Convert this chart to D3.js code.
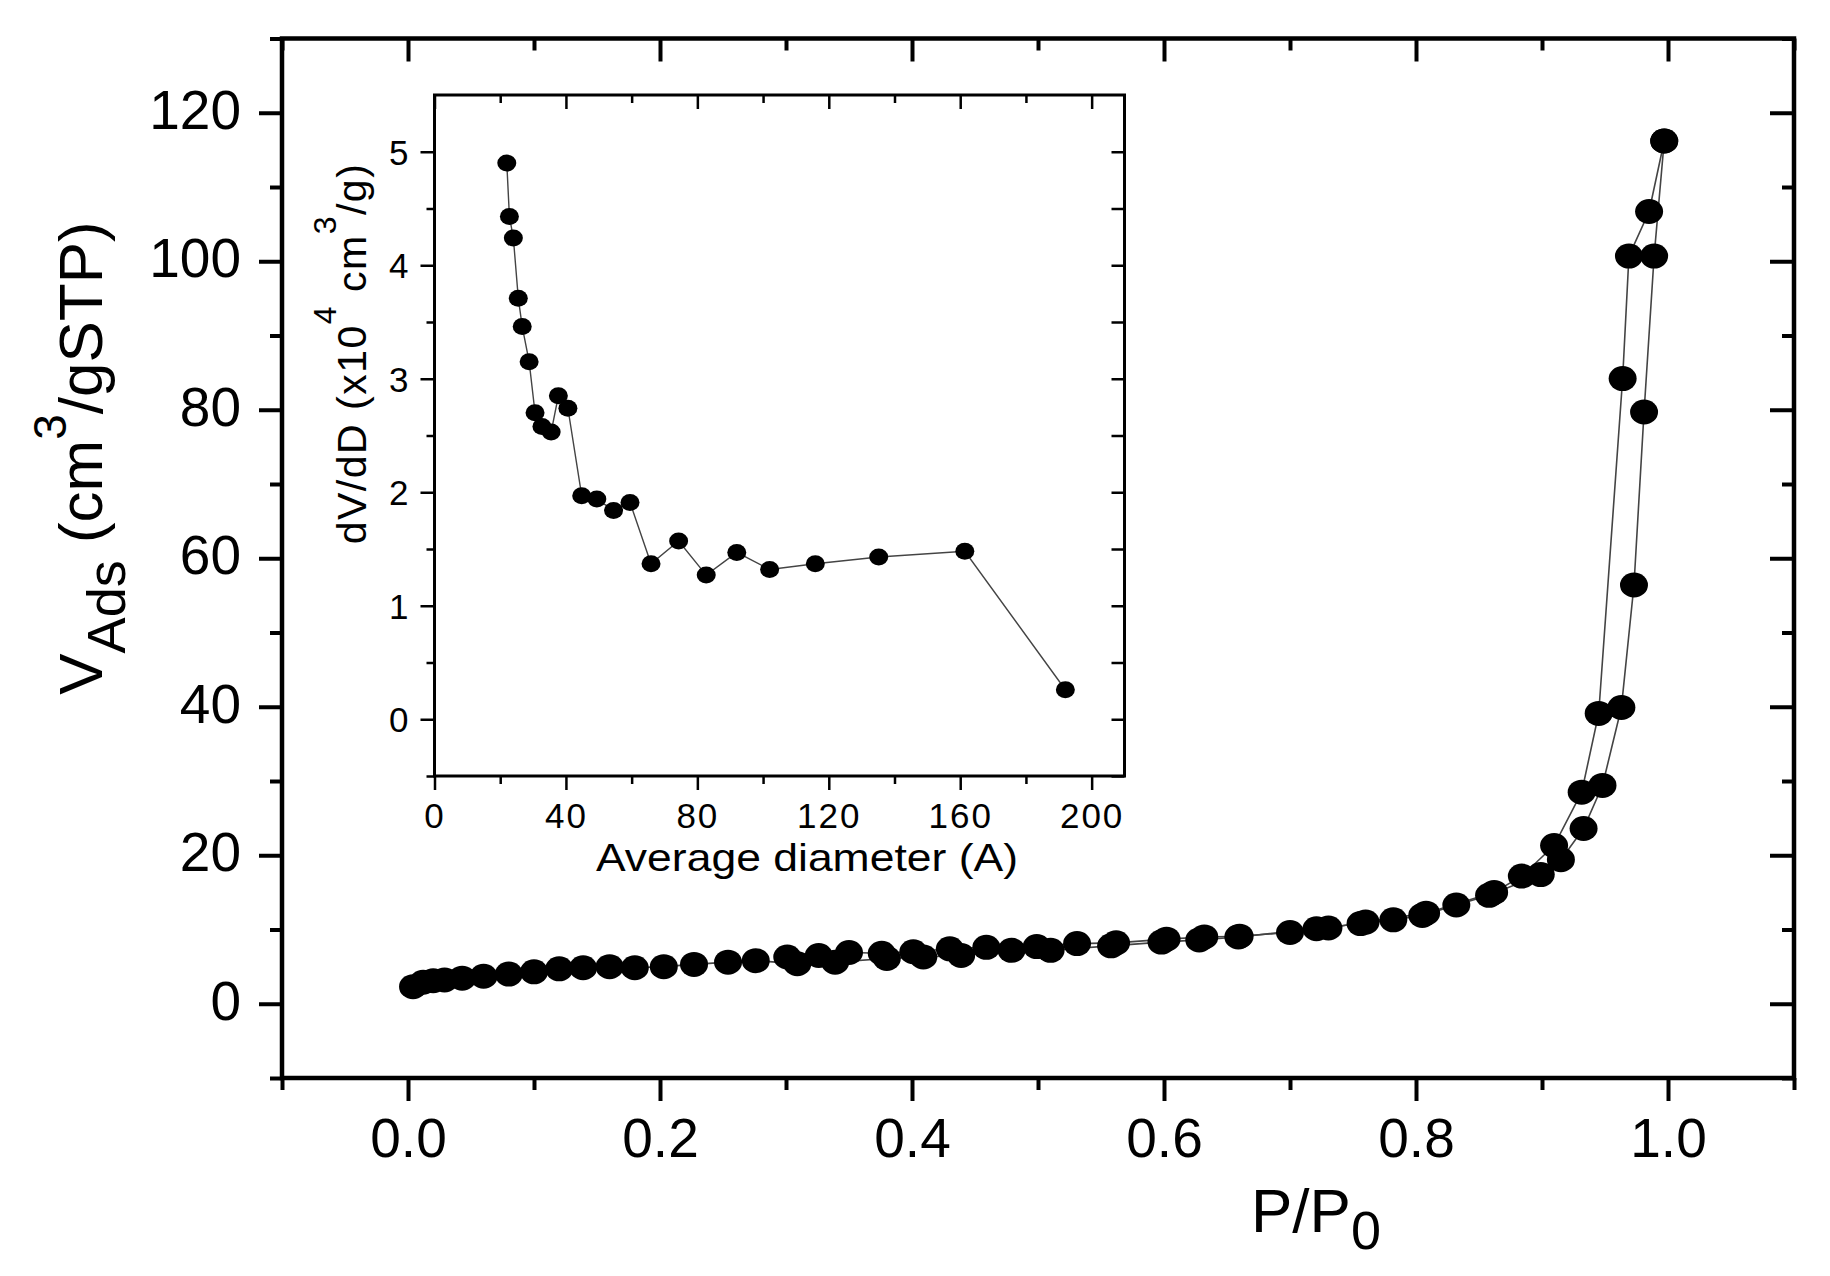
<!DOCTYPE html>
<html>
<head>
<meta charset="utf-8">
<script src="https://cdn.jsdelivr.net/npm/d3@7"></script>
<style>
  body { margin: 0; background: #fff; }
  text { font-family: "Liberation Sans", Arial, sans-serif; fill: #000; white-space: pre; }
</style>
</head>
<body>
<div id="chart"></div>
<script>
// isotherm - adsorption branch (P/P0, cm3/g STP)
var adsP = [0.004, 0.012, 0.020, 0.029, 0.043, 0.060, 0.080, 0.100, 0.120, 0.139, 0.160, 0.180, 0.203,
            0.227, 0.254, 0.276, 0.309, 0.339, 0.380, 0.409, 0.439, 0.479, 0.510, 0.558, 0.598, 0.628,
            0.659, 0.721, 0.756, 0.782, 0.805, 0.832, 0.858, 0.899, 0.915, 0.933, 0.948, 0.963, 0.973,
            0.981, 0.989, 0.997];
var adsV = [2.3, 2.9, 3.1, 3.2, 3.45, 3.7, 4.0, 4.3, 4.7, 4.85, 5.0, 4.85, 5.0,
            5.3, 5.6, 5.8, 5.4, 5.6, 6.1, 6.3, 6.5, 7.2, 7.2, 7.8, 8.3, 8.6,
            9.0, 10.1, 10.8, 11.3, 11.9, 13.3, 14.6, 17.4, 19.4, 23.6, 29.4, 39.9, 56.4,
            79.7, 100.7, 116.2];

// isotherm - desorption branch
var desP = [0.997, 0.985, 0.969, 0.964, 0.945, 0.9315, 0.9096, 0.884, 0.862, 0.808, 0.760, 0.7305,
            0.700, 0.660, 0.632, 0.602, 0.562, 0.531, 0.499, 0.459, 0.430, 0.401, 0.376, 0.350,
            0.326, 0.301];
var desV = [116.2, 106.7, 100.7, 84.2, 39.1, 28.5, 21.3, 17.2, 15.0, 12.2, 11.0, 10.2,
            9.6, 9.1, 9.0, 8.7, 8.2, 8.1, 7.7, 7.6, 7.4, 7.0, 6.8, 6.9,
            6.5, 6.3];

// inset - pore size distribution
var poreD = [22.0, 22.8, 24.0, 25.5, 26.7, 28.8, 30.6, 32.7, 35.5, 37.7, 40.6, 44.8, 49.4, 54.5,
             59.5, 65.9, 74.3, 82.7, 92.0, 102.0, 115.9, 135.2, 161.4, 192.0];
var poreV = [4.90, 4.43, 4.24, 3.71, 3.46, 3.15, 2.70, 2.58, 2.53, 2.85, 2.74, 1.97, 1.94, 1.84,
             1.91, 1.37, 1.57, 1.27, 1.47, 1.32, 1.37, 1.43, 1.48, 0.26];

// ticks
var mainXTicks = [0, 0.2, 0.4, 0.6, 0.8, 1.0];
var mainXMinor = [-0.1, 0.1, 0.3, 0.5, 0.7, 0.9, 1.1];
var mainYTicks = [0, 20, 40, 60, 80, 100, 120];
var mainYMinor = [-10, 10, 30, 50, 70, 90, 110, 130];
var insetXTicks = [0, 40, 80, 120, 160, 200];
var insetXMinor = [20, 60, 100, 140, 180];
var insetYTicks = [0, 1, 2, 3, 4, 5];
var insetYMinor = [-0.5, 0.5, 1.5, 2.5, 3.5, 4.5];

var W = 1830, H = 1276;
var frame = {left: 282, right: 1794, top: 38.5, bottom: 1078};
var box = {left: 434.5, right: 1124.5, top: 95, bottom: 776};

var svg = d3.select("#chart")
  .append("svg")
    .attr("width", W)
    .attr("height", H);

svg.append("rect").attr("width", W).attr("height", H).attr("fill", "#fff");

// main scales
var x = d3.scaleLinear().domain([-0.1, 1.1]).range([frame.left, frame.right]);
var y = d3.scaleLinear().domain([-10, 130]).range([frame.bottom, frame.top]);

// inset scales
var xi = d3.scaleLinear().domain([0, 210]).range([box.left, box.right]);
var yi = d3.scaleLinear().domain([-0.5, 5.5]).range([box.bottom, box.top]);

// draws a boxed set of axes: labelled ticks bottom/left, inward ticks top/right
function drawAxes(o) {
  var g = svg.append("g");
  function put(axis, tx, ty, sw) {
    var a = g.append("g")
      .attr("transform", "translate(" + tx + "," + ty + ")")
      .call(axis);
    a.select(".domain").remove();
    a.selectAll("line").attr("stroke", "#000").attr("stroke-width", sw);
    return a;
  }
  var fmt = o.fmt;
  var bx = put(d3.axisBottom(o.x).tickValues(o.xt).tickFormat(fmt.x).tickSize(o.major).tickPadding(o.padX), 0, o.b, o.sw);
  put(d3.axisBottom(o.x).tickValues(o.xm).tickFormat("").tickSize(o.minor), 0, o.b, o.sw);
  var ly = put(d3.axisLeft(o.y).tickValues(o.yt).tickFormat(fmt.y).tickSize(o.major).tickPadding(o.padY), o.l, 0, o.sw);
  put(d3.axisLeft(o.y).tickValues(o.ym).tickFormat("").tickSize(o.minor), o.l, 0, o.sw);
  put(d3.axisTop(o.x).tickValues(o.xt).tickFormat("").tickSize(-o.major), 0, o.t, o.sw);
  put(d3.axisTop(o.x).tickValues(o.xm).tickFormat("").tickSize(-o.minor), 0, o.t, o.sw);
  put(d3.axisRight(o.y).tickValues(o.yt).tickFormat("").tickSize(-o.rMajor), o.r, 0, o.sw);
  put(d3.axisRight(o.y).tickValues(o.ym).tickFormat("").tickSize(-o.rMinor), o.r, 0, o.sw);

  bx.attr("font-size", o.fs).attr("font-family", null);
  bx.selectAll("text").attr("fill", "#000").style("letter-spacing", o.ls + "px");
  ly.attr("font-size", o.fs).attr("font-family", null);
  ly.selectAll("text").attr("fill", "#000").attr("dy", o.dyY);

  g.append("rect")
    .attr("x", o.l).attr("y", o.t)
    .attr("width", o.r - o.l).attr("height", o.b - o.t)
    .attr("fill", "none").attr("stroke", "#000").attr("stroke-width", o.frameW);
}

// ---- main plot ----
drawAxes({
  x: x, y: y, xt: mainXTicks, xm: mainXMinor, yt: mainYTicks, ym: mainYMinor,
  l: frame.left, r: frame.right, t: frame.top, b: frame.bottom,
  major: 23, minor: 12, rMajor: 24, rMinor: 12, sw: 4, frameW: 4.5,
  padX: 17, padY: 18, fs: 55, ls: 0, dyY: "0.28em",
  fmt: {x: d3.format(".1f"), y: d3.format("d")}
});

var line = d3.line()
  .x(function(d) { return x(d[0]); })
  .y(function(d) { return y(d[1]); });

var ads = adsP.map(function(p, i) { return [p, adsV[i]]; });
var des = desP.map(function(p, i) { return [p, desV[i]]; });

[ads, des].forEach(function(branch) {
  svg.append("path")
    .datum(branch)
    .attr("d", line)
    .attr("fill", "none")
    .attr("stroke", "#444")
    .attr("stroke-width", 1.6);
});

svg.append("g").selectAll("ellipse")
  .data(ads.concat(des))
  .enter()
  .append("ellipse")
    .attr("cx", function(d) { return x(d[0]); })
    .attr("cy", function(d) { return y(d[1]); })
    .attr("rx", 14)
    .attr("ry", 12.5)
    .attr("fill", "#000");

// main axis titles
var yl = svg.append("text")
  .attr("transform", "translate(102,458) rotate(-90)")
  .attr("text-anchor", "middle")
  .attr("font-size", 62);
yl.append("tspan").text("V");
yl.append("tspan").attr("font-size", 54).attr("dy", 23).text("Ads");
yl.append("tspan").attr("dy", -23).text(" (cm");
yl.append("tspan").attr("font-size", 46).attr("dy", -36).text("3");
yl.append("tspan").attr("dy", 36).text("/gSTP)");

var xl = svg.append("text")
  .attr("x", 1251)
  .attr("y", 1232)
  .attr("font-size", 62);
xl.append("tspan").text("P/P");
xl.append("tspan").attr("font-size", 54).attr("dy", 17).text("0");

// ---- inset ----
svg.append("rect")
  .attr("x", box.left).attr("y", box.top)
  .attr("width", box.right - box.left).attr("height", box.bottom - box.top)
  .attr("fill", "#fff");

drawAxes({
  x: xi, y: yi, xt: insetXTicks, xm: insetXMinor, yt: insetYTicks, ym: insetYMinor,
  l: box.left, r: box.right, t: box.top, b: box.bottom,
  major: 14, minor: 8, rMajor: 13, rMinor: 13, sw: 2.5, frameW: 3,
  padX: 13, padY: 12, fs: 35, ls: 2, dyY: "0.36em",
  fmt: {x: d3.format("d"), y: d3.format("d")}
});

var pore = poreD.map(function(dd, i) { return [dd, poreV[i]]; });

svg.append("path")
  .datum(pore)
  .attr("d", d3.line()
    .x(function(d) { return xi(d[0]); })
    .y(function(d) { return yi(d[1]); }))
  .attr("fill", "none")
  .attr("stroke", "#444")
  .attr("stroke-width", 1.4);

svg.append("g").selectAll("ellipse")
  .data(pore)
  .enter()
  .append("ellipse")
    .attr("cx", function(d) { return xi(d[0]); })
    .attr("cy", function(d) { return yi(d[1]); })
    .attr("rx", 9.5)
    .attr("ry", 8.5)
    .attr("fill", "#000");

var iyl = svg.append("text")
  .attr("transform", "translate(366,353.5) rotate(-90)")
  .attr("text-anchor", "middle")
  .attr("font-size", 41)
  .style("letter-spacing", "1.5px");
iyl.append("tspan").text("dV/dD (x10");
iyl.append("tspan").attr("font-size", 32).attr("dy", -30).text("4");
iyl.append("tspan").attr("dy", 30).text(" cm");
iyl.append("tspan").attr("font-size", 32).attr("dy", -30).text("3");
iyl.append("tspan").attr("dy", 30).text("/g)");

svg.append("text")
  .attr("x", 596)
  .attr("y", 871)
  .attr("font-size", 39)
  .attr("textLength", 422)
  .attr("lengthAdjust", "spacingAndGlyphs")
  .text("Average diameter (A)");
</script>
</body>
</html>
